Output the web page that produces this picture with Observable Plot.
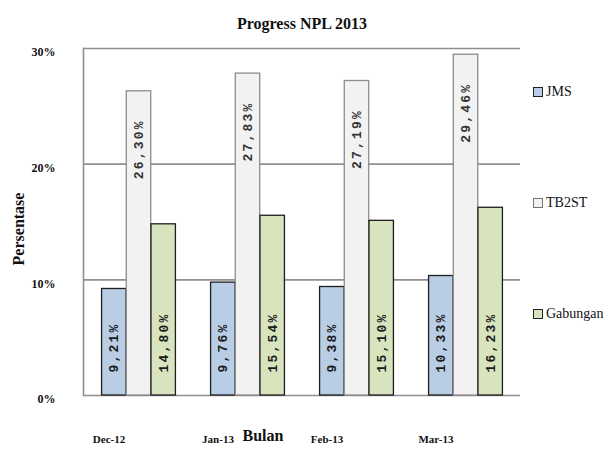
<!DOCTYPE html>
<html><head><meta charset="utf-8">
<script src="https://cdn.jsdelivr.net/npm/d3@7"></script>
<script src="https://cdn.jsdelivr.net/npm/@observablehq/plot@0.6"></script>
<style>
body{margin:0;background:#fff;overflow:hidden;width:607px;height:450px;position:relative;}
#chart{position:absolute;left:0;top:0;}
.leg{position:absolute;left:533px;font-size:14px;color:#111;white-space:nowrap;display:flex;align-items:center;}
.sw{width:8px;height:8px;border:1px solid #222;margin-right:3px;}
</style></head>
<body>
<div id="chart"></div>
<div id="legend"></div>
<script>
const months = ["Dec-12", "Jan-13", "Feb-13", "Mar-13"];
const seriesNames = ["JMS", "TB2ST", "Gabungan"];
const jms = [9.21, 9.76, 9.38, 10.33];
const tb2st = [26.30, 27.83, 27.19, 29.46];
const gabungan = [14.80, 15.54, 15.10, 16.23];
const yTicks = [0, 10, 20, 30];
const fills = ["#b9cde5", "#f2f2f2", "#d7e4bd"];
const strokes = ["#1e1e1e", "#8c8c8c", "#1e1e1e"];

const seriesValues = [jms, tb2st, gabungan];
const fmt = v => v.toFixed(2).replace(".", ",") + "%";
const barW = 24.7;
const plotW = 607 - 83 - 87;
const inset = (plotW / months.length - barW) / 2;

const seriesMarks = seriesNames.flatMap((s, j) => {
  const rows = months.map((m, i) => ({month: m, series: s, value: seriesValues[j][i]}));
  const dx = (j - 1) * barW;
  const isT = s === "TB2ST";
  return [
    Plot.barY(rows, {x: "month", y: "value", fill: "series", stroke: strokes[j], strokeWidth: 1.3, insetLeft: inset, insetRight: inset, dx}),
    isT
      ? Plot.text(rows, {x: "month", y: "value", text: d => fmt(d.value), rotate: -90, textAnchor: "end", dx, dy: 28, fontFamily: "Liberation Mono", fontSize: 13, fill: "#333"})
      : Plot.text(rows, {x: "month", y: () => 0, text: d => fmt(d.value), rotate: -90, textAnchor: "start", dx, dy: -23, fontFamily: "Liberation Mono", fontSize: 13, fill: "#1a1a1a"})
  ];
});

const chart = Plot.plot({
  width: 607, height: 450,
  marginLeft: 83, marginRight: 87, marginTop: 48, marginBottom: 55,
  style: {fontFamily: "Liberation Serif", fontWeight: "bold", fontSize: "10px", background: "white", color: "#111"},
  x: {domain: months, padding: 0, axis: null},
  y: {domain: [0, 30], axis: null},
  color: {domain: seriesNames, range: fills},
  marks: [
    Plot.ruleY(yTicks, {stroke: "#8f8f8f", strokeWidth: 1.6}),
    Plot.frame({anchor: "left", stroke: "#8f8f8f", strokeWidth: 1.6}),
    ...seriesMarks,
    Plot.text(yTicks, {y: d => d, text: d => d + "%", frameAnchor: "left", textAnchor: "end", dx: -28, dy: 4, fontSize: 12}),
    Plot.text(months, {x: d => d, text: d => d, frameAnchor: "bottom", dy: 47, dx: -30, fontSize: 11}),
    Plot.text(["Bulan"], {text: d => d, frameAnchor: "bottom", dy: 45, dx: -39, fontSize: 16}),
    Plot.text(["Persentase"], {text: d => d, frameAnchor: "left", rotate: -90, textAnchor: "middle", dx: -65, dy: 7, fontSize: 16}),
    Plot.text(["Progress NPL 2013"], {text: d => d, frameAnchor: "top", dy: -31, fontSize: 16})
  ]
});
d3.select(chart).selectAll("text").filter(function(){ const g = this.closest("g"); return g && /Mono/.test(g.getAttribute("font-family") || ""); }).style("letter-spacing", "2.2px");
document.getElementById("chart").appendChild(chart);

const tops = [84, 195, 306];
const leg = document.getElementById("legend");
seriesNames.forEach((s, i) => {
  const el = document.createElement("div");
  el.className = "leg";
  el.style.top = tops[i] + "px";
  el.innerHTML = `<span class="sw" style="background:${fills[i]};border-color:${i === 1 ? '#777' : '#222'}"></span><span style="font-family:'Liberation Serif','Times New Roman',serif">${s}</span>`;
  leg.appendChild(el);
});
</script>
</body></html>
